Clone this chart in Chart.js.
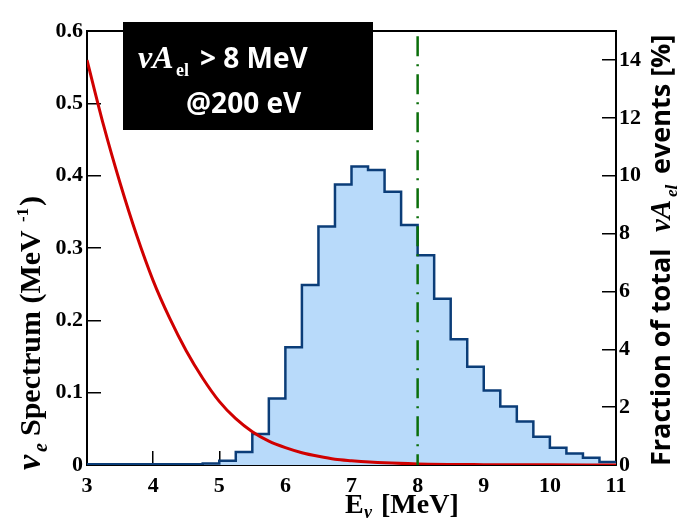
<!DOCTYPE html>
<html><head><meta charset="utf-8">
<script src="https://cdn.jsdelivr.net/npm/chart.js@4/dist/chart.umd.min.js"></script>
<style>html,body{margin:0;padding:0;background:#fff}#wrap{width:683px;height:521px}</style>
</head><body><div id="wrap"><canvas id="c" width="683" height="521"></canvas></div>
<script>
// histogram: bin left edges (MeV) and heights (left-axis units)
const binEdges = [3,3.25,3.5,3.75,4,4.25,4.5,4.75,5,5.25,5.5,5.75,6,6.25,6.5,6.75,7,7.25,7.5,7.75,8,8.25,8.5,8.75,9,9.25,9.5,9.75,10,10.25,10.5,10.75,11];
const binHeights = [0.001,0.001,0.001,0.001,0.001,0.001,0.001,0.002,0.006,0.018,0.043,0.092,0.163,0.249,0.330,0.388,0.413,0.408,0.378,0.332,0.290,0.230,0.174,0.136,0.103,0.081,0.060,0.039,0.024,0.016,0.010,0.004,0.004];
// reactor spectrum curve
const curveE = [3,3.25,3.5,3.75,4,4.25,4.5,4.75,5,5.25,5.5,5.75,6,6.25,6.5,6.75,7,7.5,8,9,10,11];
const curveV = [0.56,0.47,0.39,0.318,0.255,0.203,0.158,0.12,0.088,0.064,0.046,0.033,0.024,0.017,0.012,0.008,0.006,0.003,0.0015,0.0005,0.0002,0.0001];
const xTicks = [3,4,5,6,7,8,9,10,11];
const yTicks = [0,0.1,0.2,0.3,0.4,0.5,0.6];
const y2Ticks = [0,2,4,6,8,10,12,14];
const cut = 8;

const SERIF = '"Liberation Serif", "DejaVu Serif", serif';
const SANS = '"Open Sans", "Liberation Sans", sans-serif';

// ─── Decorations ─────────────────────────────────────────────────────────────
const deco = {
  id: 'deco',
  afterDraw(chart) {
    const { ctx, chartArea: a, scales: { x } } = chart;
    ctx.save();
    // cut line
    ctx.strokeStyle = '#0a6e0a'; ctx.lineWidth = 2.5;
    ctx.setLineDash([20, 8, 2, 8]);
    ctx.beginPath(); ctx.moveTo(x.getPixelForValue(cut), a.top + 5); ctx.lineTo(x.getPixelForValue(cut), a.bottom); ctx.stroke();
    ctx.setLineDash([]);
    // label box
    ctx.fillStyle = '#000'; ctx.fillRect(123, 22, 250, 108);
    ctx.fillStyle = '#fff'; ctx.textBaseline = 'alphabetic';
    ctx.font = 'italic bold 32px ' + SERIF; ctx.fillText('νA', 138, 68);
    ctx.font = 'bold 18px ' + SERIF; ctx.fillText('el', 176, 76);
    ctx.font = 'bold 28px ' + SANS; ctx.fillText('> 8 MeV', 200, 68);
    ctx.fillText('@200 eV', 186, 113);
    // x title
    ctx.fillStyle = '#000';
    ctx.font = 'bold 28px ' + SERIF; ctx.fillText('E', 345, 513);
    ctx.font = 'italic bold 18px ' + SERIF; ctx.fillText('ν', 364, 518);
    ctx.font = 'bold 28px ' + SERIF; ctx.fillText('[MeV]', 381, 513);
    // left title
    ctx.save(); ctx.translate(40, 0); ctx.rotate(-Math.PI / 2);
    ctx.font = 'italic bold 34px ' + SERIF; ctx.fillText('ν', -470, 0);
    ctx.font = 'italic bold 20px ' + SERIF; ctx.fillText('e', -452, 7);
    ctx.font = 'bold 30px ' + SERIF; ctx.fillText('Spectrum (MeV', -436, 0);
    ctx.font = 'bold 17px ' + SERIF; ctx.fillText('-1', -222, -12);
    ctx.font = 'bold 30px ' + SERIF; ctx.fillText(')', -206, 0);
    ctx.restore();
    // right title
    ctx.save(); ctx.translate(670, 0); ctx.rotate(-Math.PI / 2);
    ctx.font = 'bold 27px ' + SANS; ctx.fillText('Fraction of total', -466, 0);
    ctx.font = 'italic bold 29px ' + SERIF; ctx.fillText('νA', -232, 0);
    ctx.font = 'italic bold 17px ' + SERIF; ctx.fillText('el', -197, 7);
    ctx.font = 'bold 27px ' + SANS; ctx.fillText('events [%]', -174, 0);
    ctx.restore();
    ctx.restore();
  }
};

const tickFont = { family: SERIF, size: 22, weight: 'bold' };
const border = { display: true, color: '#000', width: 2 };
const grid = { drawOnChartArea: false, color: '#000', lineWidth: 1.5, tickLength: -14 };

new Chart(document.getElementById('c'), {
  type: 'line',
  plugins: [deco],
  data: {
    datasets: [
      {
        data: binEdges.map((e, i) => ({ x: e, y: binHeights[i] })),
        stepped: 'before', fill: 'origin',
        borderColor: '#0b3d78', backgroundColor: '#b8dafa', borderWidth: 2.5,
        pointRadius: 0, order: 2,
      },
      {
        data: curveE.map((e, i) => ({ x: e, y: curveV[i] })),
        borderColor: '#d00000', borderWidth: 3, cubicInterpolationMode: 'monotone',
        pointRadius: 0, fill: false, order: 1,
      },
    ],
  },
  options: {
    responsive: false, animation: false,
    plugins: { legend: { display: false }, tooltip: { enabled: false } },
    scales: {
      x: {
        type: 'linear', min: 3, max: 11,
        afterBuildTicks: s => { s.ticks = xTicks.map(v => ({ value: v })); },
        afterFit: s => { s.height = 56; },
        grid, border,
        ticks: { color: '#000', font: tickFont, padding: 22, maxRotation: 0 },
      },
      xTop: {
        type: 'linear', min: 3, max: 11, position: 'top',
        afterBuildTicks: s => { s.ticks = xTicks.map(v => ({ value: v })); },
        afterFit: s => { s.height = 6; },
        grid: { drawOnChartArea: false, tickLength: 0, color: '#000' }, border,
        ticks: { display: false },
      },
      y: {
        min: 0, max: 0.6, position: 'left',
        afterBuildTicks: s => { s.ticks = yTicks.map(v => ({ value: v })); },
        afterFit: s => { s.width = 87; },
        grid, border,
        ticks: { color: '#000', font: tickFont, padding: 18, callback: v => v === 0 ? '0' : v.toFixed(1) },
      },
      y2: {
        min: 0, max: 15, position: 'right',
        afterFit: s => { s.width = 67; },
        afterBuildTicks: s => { s.ticks = y2Ticks.map(v => ({ value: v })); },
        grid, border,
        ticks: { color: '#000', font: tickFont, padding: 17 },
      },
    },
  },
});
</script></body></html>
